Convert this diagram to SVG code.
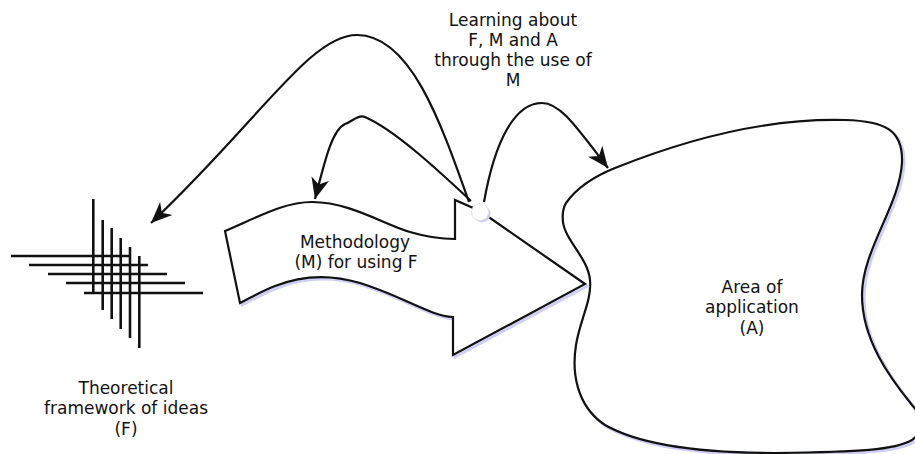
<svg xmlns="http://www.w3.org/2000/svg" width="915" height="454" viewBox="0 0 915 454">
  <style>
    .lbl { font-family: "DejaVu Sans", "Liberation Sans", sans-serif; font-size: 17px; fill: #111; text-anchor: middle; }
    .grid line { stroke: #111; stroke-width: 2.6; }
    .shape { fill: #fff; stroke: #111; stroke-width: 2.2; stroke-linejoin: miter; }
    .shadow { fill: none; stroke: #cfcff5; stroke-width: 3; }
    .conn { fill: none; stroke: #111; stroke-width: 2.2; }
  </style>
  <defs>
    <marker id="ah" markerUnits="userSpaceOnUse" markerWidth="24" markerHeight="20" viewBox="-22 -10 24 20" refX="0" refY="0" orient="auto">
      <path d="M0,0 L-21,-9 L-15,0 L-21,9 Z" fill="#111"/>
    </marker>
  </defs>
  <rect width="915" height="454" fill="#fff"/>

  <g id="framework">
    <g class="grid">
      <line x1="11" y1="256" x2="130" y2="256"/>
      <line x1="29" y1="265" x2="148" y2="265"/>
      <line x1="48" y1="274" x2="167" y2="274"/>
      <line x1="66" y1="283" x2="185" y2="283"/>
      <line x1="84" y1="293" x2="203" y2="293"/>
      <line x1="93.3" y1="199" x2="93.3" y2="293"/>
      <line x1="102.7" y1="220" x2="102.7" y2="310"/>
      <line x1="111.7" y1="228" x2="111.7" y2="319"/>
      <line x1="120.7" y1="238" x2="120.7" y2="329"/>
      <line x1="130" y1="247" x2="130" y2="338"/>
      <line x1="139.3" y1="256" x2="139.3" y2="348"/>
    </g>
    <text class="lbl" x="126" y="394">Theoretical</text>
    <text class="lbl" x="126" y="414">framework of ideas</text>
    <text class="lbl" x="126" y="435">(F)</text>
  </g>

  <g id="area">
    <path class="shadow" transform="translate(2,2)" d="M 566,203 C 578,186 595,176 615,168 C 690,138 770,118 845,120 C 885,121 903,130 902,162 C 900,205 862,250 862,295 C 862,340 890,378 912,405 C 925,420 925,430 912,440 C 895,450 860,452 775,453 C 700,453 640,445 605,425 C 575,405 572,370 576,345 C 580,320 592,300 590,280 C 588,258 565,240 563,222 C 562,213 563,208 566,203 Z"/>
    <path class="shape" d="M 566,203 C 578,186 595,176 615,168 C 690,138 770,118 845,120 C 885,121 903,130 902,162 C 900,205 862,250 862,295 C 862,340 890,378 912,405 C 925,420 925,430 912,440 C 895,450 860,452 775,453 C 700,453 640,445 605,425 C 575,405 572,370 576,345 C 580,320 592,300 590,280 C 588,258 565,240 563,222 C 562,213 563,208 566,203 Z"/>
    <text class="lbl" x="752" y="293">Area of</text>
    <text class="lbl" x="752" y="313">application</text>
    <text class="lbl" x="752" y="334">(A)</text>
  </g>

  <g id="methodology">
    <path class="shadow" transform="translate(2,2)" d="M 225,231 C 260,216 285,202 312,202 C 350,202 385,225 410,232 C 430,238 445,239 455,239 L 455,200 L 480,211 L 585,284 L 453,355 L 453,317 C 430,316 400,295 360,283 C 330,274 300,276 275,286 C 262,291 250,298 240,303 Z"/>
    <path class="shape" d="M 225,231 C 260,216 285,202 312,202 C 350,202 385,225 410,232 C 430,238 445,239 455,239 L 455,200 L 480,211 L 585,284 L 453,355 L 453,317 C 430,316 400,295 360,283 C 330,274 300,276 275,286 C 262,291 250,298 240,303 Z"/>
    <text class="lbl" x="355" y="248">Methodology</text>
    <text class="lbl" x="356" y="268">(M) for using F</text>
  </g>

  <g id="connectors">
    <path class="conn" marker-end="url(#ah)" d="M 469,202 C 440,120 410,35 357,35 C 310,35 260,120 151,223"/>
    <path class="conn" marker-end="url(#ah)" d="M 471,201 C 440,172 395,130 365,117 C 358,114 352,122 345,124 C 332,130 325,160 315,199"/>
    <path class="conn" marker-end="url(#ah)" d="M 484,202 C 495,140 515,103 542,103 C 560,103 575,125 608,168"/>
  </g>

  <g id="learning">
    <circle cx="482" cy="214" r="8.5" fill="#cfcff5"/>
    <circle cx="480" cy="212" r="8.5" fill="#fff" stroke="#e2e2e2" stroke-width="1"/>
    <text class="lbl" x="513" y="26">Learning about</text>
    <text class="lbl" x="513" y="46">F, M and A</text>
    <text class="lbl" x="513" y="66">through the use of</text>
    <text class="lbl" x="513" y="86">M</text>
  </g>
</svg>
